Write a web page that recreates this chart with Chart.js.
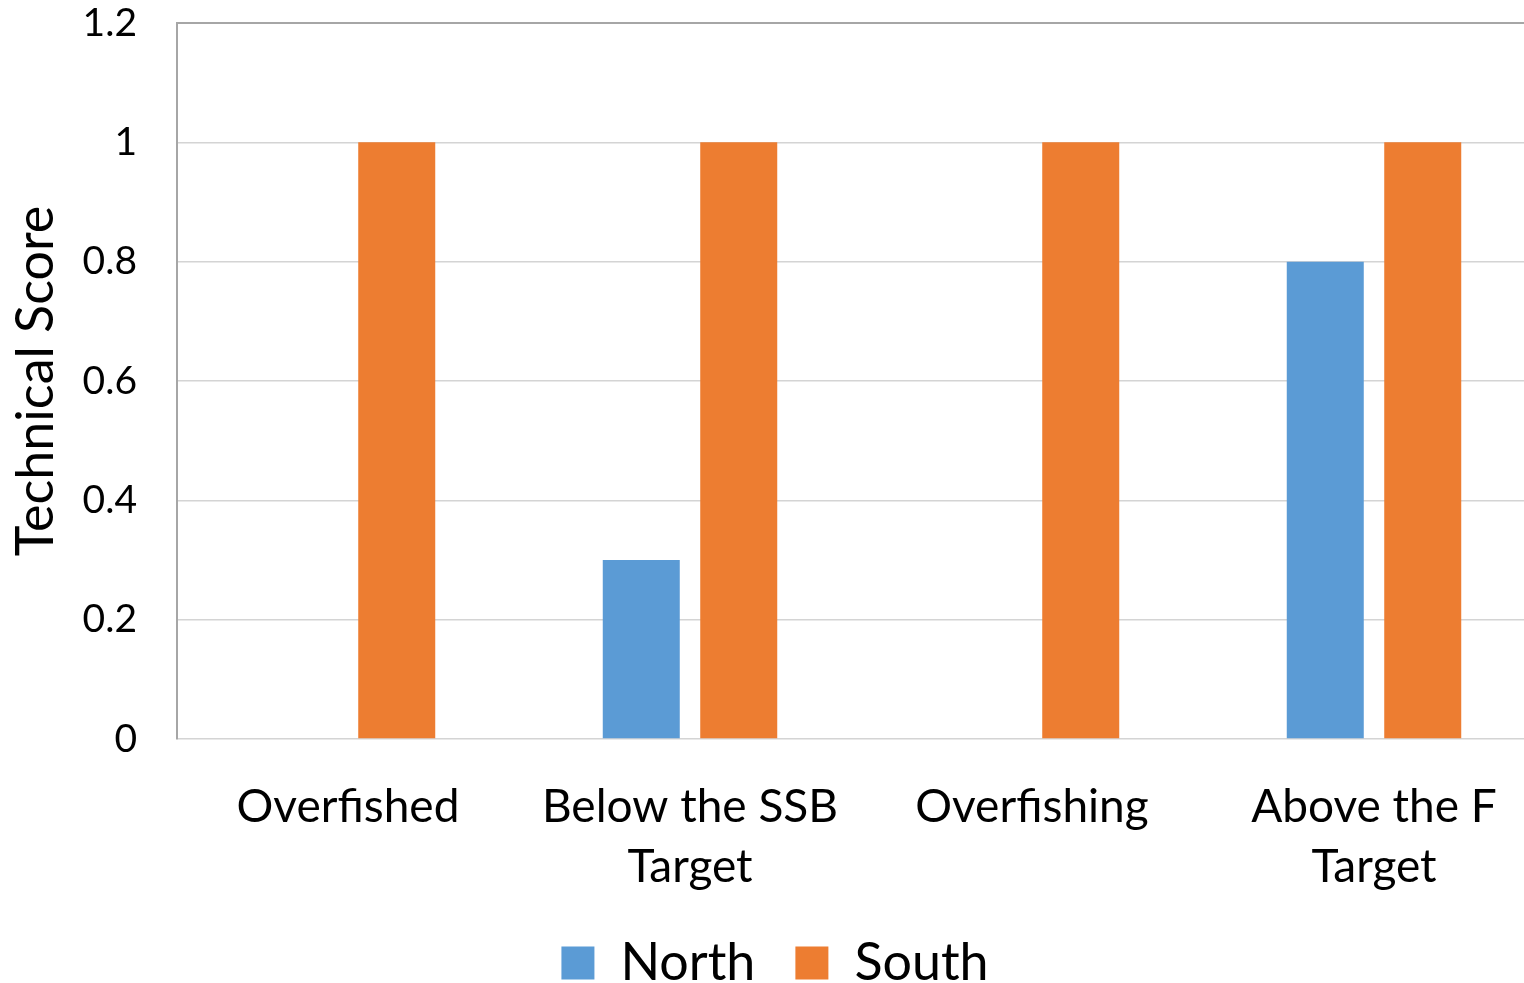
<!DOCTYPE html>
<html>
<head>
<meta charset="utf-8">
<script src="https://cdn.jsdelivr.net/npm/chart.js@4"></script>
<style>
  html, body { margin: 0; padding: 0; background: #fff; overflow: hidden; }
  #wrap { width: 1545px; height: 983px; }
</style>
</head>
<body>
<div id="wrap"><canvas id="graph01"></canvas></div>
<script>
const categories = ["Overfished", ["Below the SSB", "Target"], "Overfishing", ["Above the F", "Target"]];
const northScores = [0, 0.3, 0, 0.8];
const southScores = [1, 1, 1, 1];
const yTicks = [0, 0.2, 0.4, 0.6, 0.8, 1, 1.2];

const graph01 = document.getElementById("graph01");
Chart.defaults.font.family = "Lato, 'Open Sans', sans-serif";
Chart.defaults.color = "#000";

const myChart01 = new Chart(graph01, {
  type: "bar",
  data: {
    labels: categories,
    datasets: [
      {
        label: "North",
        data: northScores,
        backgroundColor: "#5B9BD5",
        categoryPercentage: 0.57,
        barPercentage: 0.79,
      },
      {
        label: "South",
        data: southScores,
        backgroundColor: "#ED7D31",
        categoryPercentage: 0.57,
        barPercentage: 0.79,
      },
    ],
  },
  options: {
    responsive: true,
    maintainAspectRatio: false,
    animation: false,
    layout: { padding: { left: 5, right: 0, top: 0, bottom: -16 } },
    plugins: {
      tooltip: { enabled: false },
      legend: {
        position: "bottom",
        labels: {
          boxWidth: 33,
          boxHeight: 33,
          padding: 40,
          font: { size: 52 },
        },
      },
    },
    scales: {
      x: {
        grid: { display: false },
        border: { display: false },
        afterFit: (scale) => {
          scale.height = 158;
        },
        ticks: {
          padding: 30,
          maxRotation: 0,
          font: { size: 46, lineHeight: 1.3 },
        },
      },
      y: {
        min: 0,
        max: 1.2,
        afterBuildTicks: (scale) => {
          scale.ticks = yTicks.map((v) => ({ value: v }));
        },
        afterFit: (scale) => {
          scale.width = 172;
          scale.paddingTop = 23;
          scale.paddingBottom = 0;
        },
        title: {
          display: true,
          text: "Technical Score",
          font: { size: 52 },
          padding: { top: 0, bottom: 0 },
        },
        border: { color: "#a6a6a6", width: 2 },
        grid: {
          color: (ctx) => (ctx.tick && ctx.tick.value === 1.2 ? "#a6a6a6" : "#d4d4d4"),
          lineWidth: (ctx) => (ctx.tick && ctx.tick.value === 1.2 ? 2 : 1.5),
          drawTicks: false,
        },
        ticks: {
          padding: 40,
          font: { size: 39 },
          callback: (v) => String(Math.round(v * 10) / 10),
        },
      },
    },
  },
});
</script>
</body>
</html>
